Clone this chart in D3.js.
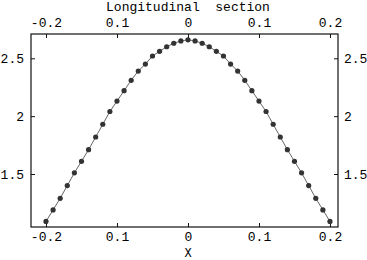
<!DOCTYPE html>
<html>
<head>
<meta charset="utf-8">
<script src="https://cdn.jsdelivr.net/npm/d3@7"></script>
<style>
  body { margin: 0; background: #fff; }
  svg text { font-family: "Liberation Mono", "DejaVu Sans Mono", monospace; font-size: 13px; fill: #000; }
</style>
</head>
<body>
<div id="chart"></div>
<script>
// data
var xValues = [-0.20, -0.19, -0.18, -0.17, -0.16, -0.15, -0.14, -0.13, -0.12, -0.11,
               -0.10, -0.09, -0.08, -0.07, -0.06, -0.05, -0.04, -0.03, -0.02, -0.01,
                0.00,
                0.01,  0.02,  0.03,  0.04,  0.05,  0.06,  0.07,  0.08,  0.09,  0.10,
                0.11,  0.12,  0.13,  0.14,  0.15,  0.16,  0.17,  0.18,  0.19,  0.20];
var yValues = [1.09, 1.19, 1.29, 1.40, 1.51, 1.61, 1.71, 1.82, 1.93, 2.04,
               2.13, 2.22, 2.31, 2.39, 2.45, 2.52, 2.56, 2.60, 2.63, 2.65,
               2.66,
               2.65, 2.63, 2.60, 2.56, 2.52, 2.45, 2.39, 2.31, 2.22, 2.13,
               2.04, 1.93, 1.82, 1.71, 1.61, 1.51, 1.40, 1.29, 1.19, 1.09];
var xTicks = [-0.2, -0.1, 0, 0.1, 0.2];
var xTickLabels = ["-0.2", "0.1", "0", "0.1", "0.2"];
var yTicks = [1.5, 2, 2.5];
var yTickLabels = ["1.5", "2", "2.5"];
var title = "Longitudinal\u00a0\u00a0section";
var xLabel = "X";

var margin = {top: 34, right: 29, bottom: 33, left: 31};
var width = 367 - margin.left - margin.right;
var height = 260 - margin.top - margin.bottom;

var x = d3.scaleLinear().domain([-0.2211, 0.2113]).range([0, width]);
var y = d3.scaleLinear().domain([1.042, 2.71]).range([height, 0]);

var svg = d3.select("#chart").append("svg")
    .attr("width", 367)
    .attr("height", 260);

var g = svg.append("g")
    .attr("transform", "translate(" + margin.left + "," + margin.top + ")");

var fmtX = function(d) { return xTickLabels[xTicks.indexOf(d)]; };
var fmtY = function(d) { return yTickLabels[yTicks.indexOf(d)]; };

// axes with inward ticks
g.append("g")
    .attr("transform", "translate(0," + height + ")")
    .call(d3.axisBottom(x).tickValues(xTicks).tickFormat(fmtX).tickSize(-4).tickPadding(5));
g.append("g")
    .call(d3.axisTop(x).tickValues(xTicks).tickFormat(fmtX).tickSize(-4).tickPadding(7));
g.append("g")
    .call(d3.axisLeft(y).tickValues(yTicks).tickFormat(fmtY).tickSize(-4).tickPadding(7));
g.append("g")
    .attr("transform", "translate(" + width + ",0)")
    .call(d3.axisRight(y).tickValues(yTicks).tickFormat(fmtY).tickSize(-4).tickPadding(6));

g.selectAll(".domain").remove();
g.selectAll(".tick line").attr("stroke", "#111");
g.selectAll(".tick text").attr("font-size", null).attr("font-family", null);

// frame
g.append("rect")
    .attr("width", width)
    .attr("height", height)
    .attr("fill", "none")
    .attr("stroke", "#111")
    .attr("stroke-width", 1.2);

var pts = xValues.map(function(d, i) { return {x: d, y: yValues[i]}; });

var line = d3.line()
    .x(function(d) { return x(d.x); })
    .y(function(d) { return y(d.y); });

g.append("path")
    .datum(pts)
    .attr("fill", "none")
    .attr("stroke", "#555")
    .attr("stroke-width", 0.9)
    .attr("d", line);

g.selectAll("circle")
    .data(pts)
  .enter().append("circle")
    .attr("cx", function(d) { return x(d.x); })
    .attr("cy", function(d) { return y(d.y); })
    .attr("r", 2.6)
    .attr("fill", "#333");

// titles
svg.append("text")
    .attr("x", margin.left + x(0))
    .attr("y", 11)
    .attr("text-anchor", "middle")
    .text(title);

svg.append("text")
    .attr("x", margin.left + x(0))
    .attr("y", 257)
    .attr("text-anchor", "middle")
    .style("font-size", "12px")
    .text(xLabel);
</script>
</body>
</html>
